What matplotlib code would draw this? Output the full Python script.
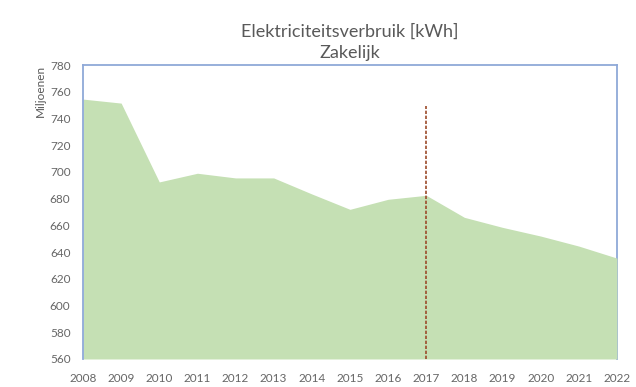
import numpy as np
import matplotlib
matplotlib.use('Agg')
from matplotlib import pyplot as plt
from matplotlib import rcParams
rcParams['font.family'] = ['Lato', 'DejaVu Sans']

# jaarlijks elektriciteitsverbruik zakelijk, miljoenen kWh
jaren = list(range(2008, 2023))
verbruik = [754.5, 751.5, 692.5, 699, 695.5, 695.5, 683.5, 672,
            679.5, 682.5, 666, 658.5, 652, 644.5, 635.5]
markeer_jaar = 2017
markeer_hoogte = 749
y_ticks = list(range(560, 781, 20))

fig = plt.figure(figsize=(6.36, 3.87), dpi=100)
ax = fig.add_axes([0.1305, 0.0724, 0.8395, 0.7596])

ax.fill_between(jaren, verbruik, 560, color='#c5e0b4', lw=0, zorder=3)
ax.vlines(markeer_jaar, 560, markeer_hoogte, colors='#9c4a2a',
          linestyles=(0, (2, 1)), lw=1.2, zorder=4)

ax.set_xlim(2008, 2022)
ax.set_ylim(560, 780)
ax.set_xticks(jaren)
ax.set_yticks(y_ticks)
ax.tick_params(length=0, labelsize=8.5, colors='#666666')
ax.tick_params(axis='x', pad=10)
ax.tick_params(axis='y', pad=9)

for side in ['left', 'top', 'right']:
    ax.spines[side].set_color('#8fa9d8')
    ax.spines[side].set_linewidth(1.3)
ax.spines['left'].set_zorder(5)
ax.spines['bottom'].set_visible(False)

ax.set_ylabel('Miljoenen', loc='top', fontsize=8.5, color='#595959', labelpad=3)
ax.set_title('Elektriciteitsverbruik [kWh]\nZakelijk', fontsize=13,
             color='#595959', linespacing=1.4, pad=5)

fig.savefig('out.png', dpi=100)
